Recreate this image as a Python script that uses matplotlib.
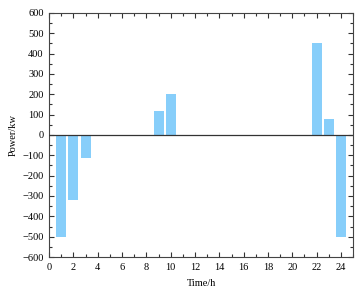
import numpy as np
import matplotlib
matplotlib.use("Agg")
import matplotlib.pyplot as plt
from matplotlib.ticker import MultipleLocator

# Data
hours = list(range(1, 25))
power = [-500, -320, -115, 0, 0, 0, 0, 0, 120, 200, 0, 0,
         0, 0, 0, 0, 0, 0, 0, 0, 0, 450, 80, -500]

plt.rcParams['font.family'] = ['Liberation Serif', 'DejaVu Serif']
plt.rcParams['font.size'] = 7.5

fig = plt.figure(figsize=(3.64, 3.02), dpi=100)
ax = fig.add_axes([0.135, 0.149, 0.835, 0.808])

ax.bar(hours, power, width=0.82, color='#87cefa', zorder=2)
ax.axhline(0, color='#333333', lw=0.9, zorder=3)

ax.set_xlim(0, 25)
ax.set_ylim(-600, 600)
ax.xaxis.set_major_locator(MultipleLocator(2))
ax.xaxis.set_minor_locator(MultipleLocator(1))
ax.yaxis.set_major_locator(MultipleLocator(100))
ax.yaxis.set_minor_locator(MultipleLocator(50))
ax.tick_params(which='both', direction='in', top=True, right=True,
               color='#333333', width=0.8)
ax.tick_params(which='major', length=3.5, pad=4)
ax.tick_params(which='minor', length=2)
for s in ax.spines.values():
    s.set_color('#444444')
    s.set_linewidth(0.8)

ax.set_xlabel('Time/h', labelpad=5)
ax.set_ylabel('Power/kw', labelpad=3)

fig.savefig('out.png', dpi=100)
